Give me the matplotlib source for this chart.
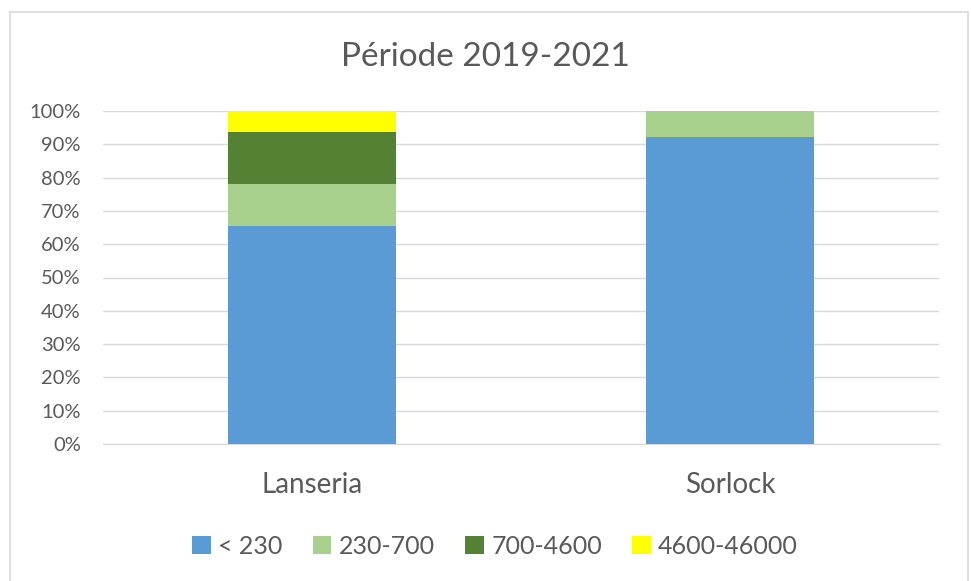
import matplotlib.pyplot as plt
from matplotlib.patches import Rectangle
from matplotlib.ticker import FuncFormatter

plt.rcParams['font.family'] = ['Lato', 'DejaVu Sans']

# data (share of each class, %)
sites = ['Lanseria', 'Sorlock']
classes = ['< 230', '230-700', '700-4600', '4600-46000']
lt_230 = [65.6, 92.2]
c_230_700 = [12.5, 7.8]
c_700_4600 = [15.6, 0.0]
c_4600_46000 = [6.3, 0.0]
series = [lt_230, c_230_700, c_700_4600, c_4600_46000]
colors = ['#5B9BD5', '#A9D18E', '#548235', '#FFFF00']

text_col = '#595959'

fig = plt.figure(figsize=(9.71, 5.81), dpi=100)
# outer chart border (bottom edge runs off the image)
fig.patches.append(Rectangle((9.5 / 971, -10 / 581), 958 / 971, 579 / 581,
                             transform=fig.transFigure, fill=False,
                             edgecolor='#d9d9d9', linewidth=1.2))

ax = fig.add_axes([103 / 971, 1 - 444 / 581, 836 / 971, 333 / 581])

x = range(len(sites))
bottom = [0.0] * len(sites)
for vals, col, lab in zip(series, colors, classes):
    ax.bar(x, vals, bottom=bottom, width=0.40, color=col, label=lab, zorder=3)
    bottom = [b + v for b, v in zip(bottom, vals)]

ax.set_xlim(-0.5, len(sites) - 0.5)
ax.set_ylim(0, 100)
ax.set_yticks(range(0, 101, 10))
ax.yaxis.set_major_formatter(FuncFormatter(lambda v, p: f'{v:.0f}%'))
ax.set_xticks(list(x))
ax.set_xticklabels(sites, fontsize=20, color=text_col)
ax.tick_params(axis='y', labelsize=14.5, labelcolor=text_col, length=0, pad=16)
ax.tick_params(axis='x', length=0, pad=20)
ax.grid(axis='y', color='#d9d9d9', linewidth=1, zorder=0)
for s in ['top', 'right', 'left']:
    ax.spines[s].set_visible(False)
ax.spines['bottom'].set_color('#d9d9d9')

fig.text(0.5, 1 - 57 / 581, 'Période 2019-2021', ha='center', va='center',
         fontsize=24, color=text_col)

fig.legend(loc='center', bbox_to_anchor=(495 / 971, 1 - 546 / 581), ncol=4,
           frameon=False, fontsize=18, labelcolor=text_col,
           handlelength=0.75, handleheight=0.75, handletextpad=0.3,
           columnspacing=1.2)

fig.savefig('out.png', dpi=100)
